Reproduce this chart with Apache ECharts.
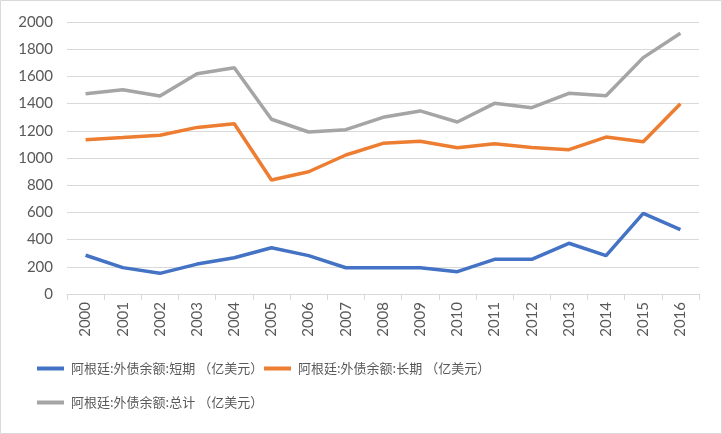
<!DOCTYPE html>
<html><head><meta charset="utf-8">
<script src="https://cdn.jsdelivr.net/npm/echarts@6/dist/echarts.min.js"></script>
<style>html,body{margin:0;padding:0;background:#fff}#c{width:722px;height:434px}</style>
</head><body><div id="c"></div>
<script>
var years = ['2000','2001','2002','2003','2004','2005','2006','2007','2008','2009','2010','2011','2012','2013','2014','2015','2016'];
var shortTerm = [285,194,152,220,267,340,282,193,193,193,164,255,255,373,282,593,473];
var longTerm = [1135,1150,1167,1225,1252,838,899,1022,1108,1123,1076,1105,1078,1061,1154,1120,1399];
var totalDebt = [1473,1502,1456,1620,1664,1285,1191,1208,1299,1346,1265,1402,1370,1476,1458,1738,1917];
var yTicks = {min:0, max:2000, interval:200};
var names = ['阿根廷:外债余额:短期 （亿美元）','阿根廷:外债余额:长期 （亿美元）','阿根廷:外债余额:总计 （亿美元）'];
var colors = ['#4472C4','#ED7D31','#A5A5A5'];

var chart = echarts.init(document.getElementById('c'));
var legendText = {fontFamily:'"Noto Sans CJK SC", sans-serif', fontSize:13, color:'#595959', padding:[0,0,0,2]};
function mkLegend(i, left, top){
  return {data:[names[i]], left:left, top:top, icon:'rect', itemWidth:27, itemHeight:4, itemGap:0,
    textStyle:legendText, padding:0, selectedMode:false};
}
chart.setOption({
  animation:false,
  color:colors,
  graphic:[{type:'rect', shape:{x:0.5,y:0.5,width:721,height:433}, style:{fill:'none', stroke:'#d9d9d9', lineWidth:1}}],
  grid:{left:67, right:23, top:22, bottom:140, containLabel:false},
  legend:[mkLegend(0,37,362), mkLegend(1,264,362), mkLegend(2,37,396)],
  xAxis:{type:'category', data:years, boundaryGap:true,
    axisLine:{lineStyle:{color:'#d9d9d9', width:1}},
    axisTick:{show:true, length:6, lineStyle:{color:'#d9d9d9'}},
    axisLabel:{rotate:90, margin:8, fontFamily:'Lato, sans-serif', fontSize:15, color:'#595959'}},
  yAxis:{type:'value', min:yTicks.min, max:yTicks.max, interval:yTicks.interval,
    axisLine:{show:false}, axisTick:{show:false},
    splitLine:{lineStyle:{color:'#d9d9d9', width:1}},
    axisLabel:{margin:14, fontFamily:'Lato, sans-serif', fontSize:15, color:'#595959', formatter:function(v){return String(v);}}},
  series:[
    {name:names[0], type:'line', data:shortTerm, symbol:'none', lineStyle:{width:3.5, color:colors[0]}, itemStyle:{color:colors[0]}},
    {name:names[1], type:'line', data:longTerm, symbol:'none', lineStyle:{width:3.5, color:colors[1]}, itemStyle:{color:colors[1]}},
    {name:names[2], type:'line', data:totalDebt, symbol:'none', lineStyle:{width:3.5, color:colors[2]}, itemStyle:{color:colors[2]}}
  ]
});
</script></body></html>
